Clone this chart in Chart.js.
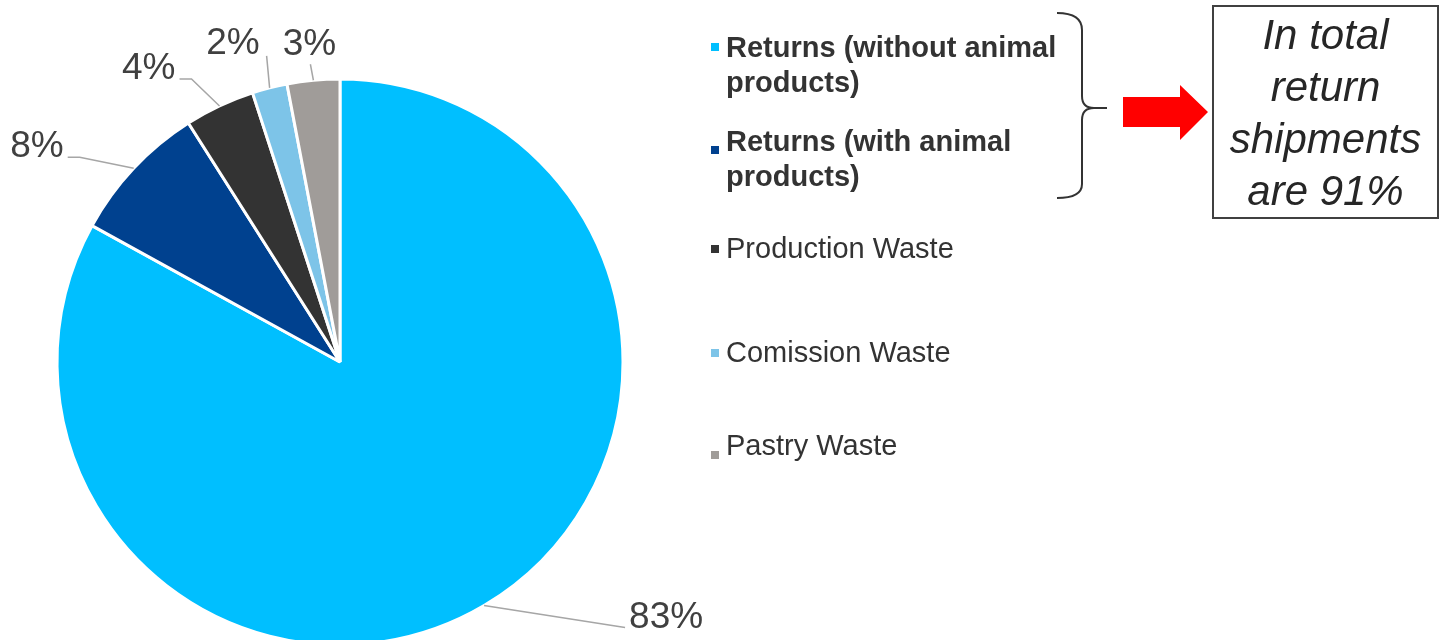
<!DOCTYPE html>
<html>
<head>
<meta charset="utf-8">
<script src="https://cdn.jsdelivr.net/npm/chart.js@4"></script>
<style>
  html, body { margin: 0; padding: 0; background: #fff; overflow: hidden; }
  body { width: 1442px; height: 640px; position: relative; font-family: "Liberation Sans", Arial, sans-serif; }
  #wasteChart { position: absolute; left: 0; top: 0; }
  .legend-item { position: absolute; left: 726px; width: 350px; font-size: 29px; line-height: 35px; color: #333; }
  .legend-item.bold { font-weight: bold; }
  .legend-mark { position: absolute; left: 711px; width: 8px; height: 8px; }
  #note {
    position: absolute; left: 1212px; top: 5px; width: 223px; height: 208px;
    border: 2px solid #404040; text-align: center; font-style: italic;
    font-size: 42px; line-height: 52px; color: #262626; padding-top: 2px; box-sizing: content-box;
  }
  #marks { position: absolute; left: 0; top: 0; }
</style>
</head>
<body>
<canvas id="wasteChart" width="1442" height="724"></canvas>
<svg id="marks" width="1442" height="640">
  <path d="M1057,13 Q1082,13 1082,30 L1082,96 Q1082,108 1094,108 L1107,108 M1094,108 Q1082,108 1082,120 L1082,184 Q1082,198 1057,198"
        fill="none" stroke="#333" stroke-width="2"/>
  <polygon points="1123,97 1180,97 1180,85 1208,112 1180,140 1180,127 1123,127" fill="#ff0000"/>
</svg>
<div id="note"></div>
<script>
// waste composition
const categories = [
  "Returns (without animal products)",
  "Returns (with animal products)",
  "Production Waste",
  "Comission Waste",
  "Pastry Waste"
];
const shares = [83, 8, 4, 2, 3];
const colors = ["#00bfff", "#00418f", "#333333", "#7dc4e8", "#a09c99"];
const boldEntries = [true, true, false, false, false];

// legend row tops and marker tops (px)
const legendTops = [30, 124, 231, 335, 428];
const markTops = [43, 146, 245, 349, 451];

// leader lines: points relative to the slice's outer midpoint, then label anchor
const leaders = [
  { pts: [[0, 0], [141, 22]], text: [145, 22], align: "left" },
  { pts: [[0, 0], [-54, -11], [-66, -11]], text: [-70, -11], align: "right" },
  { pts: [[0, 0], [-28, -27], [-40, -27]], text: [-44, -27], align: "right" },
  { pts: [[0, 0], [-3, -32]], text: [-10, -34], align: "right" },
  { pts: [[0, 0], [-3, -16]], text: [-4, -25], align: "center" }
];

const sliceLabels = {
  id: "sliceLabels",
  afterDatasetsDraw(chart) {
    const ctx = chart.ctx;
    const meta = chart.getDatasetMeta(0);
    ctx.save();
    meta.data.forEach((arc, i) => {
      const p = arc.getProps(["x", "y", "startAngle", "endAngle", "outerRadius"], true);
      const mid = (p.startAngle + p.endAngle) / 2;
      const ex = p.x + Math.cos(mid) * p.outerRadius;
      const ey = p.y + Math.sin(mid) * p.outerRadius;
      const l = leaders[i];
      ctx.beginPath();
      l.pts.forEach(([dx, dy], k) => {
        if (k === 0) ctx.moveTo(ex + dx, ey + dy);
        else ctx.lineTo(ex + dx, ey + dy);
      });
      ctx.strokeStyle = "#a6a6a6";
      ctx.lineWidth = 1.5;
      ctx.stroke();
      ctx.fillStyle = "#404040";
      ctx.font = '37px "Liberation Sans", Arial, sans-serif';
      ctx.textAlign = l.align;
      ctx.textBaseline = "alphabetic";
      ctx.fillText(chart.data.datasets[0].data[i] + "%", ex + l.text[0], ey + l.text[1]);
    });
    ctx.restore();
  }
};

new Chart(document.getElementById("wasteChart"), {
  type: "pie",
  data: {
    labels: categories,
    datasets: [{
      data: shares,
      backgroundColor: colors,
      borderColor: "#ffffff",
      borderWidth: 3
    }]
  },
  options: {
    responsive: false,
    animation: false,
    radius: 283,
    layout: { padding: { left: 58, right: 820, top: 80, bottom: 80 } },
    plugins: {
      legend: { display: false },
      tooltip: { enabled: false }
    }
  },
  plugins: [sliceLabels]
});

// legend
categories.forEach((name, i) => {
  const mark = document.createElement("div");
  mark.className = "legend-mark";
  mark.style.top = markTops[i] + "px";
  mark.style.background = colors[i];
  document.body.appendChild(mark);

  const item = document.createElement("div");
  item.className = "legend-item" + (boldEntries[i] ? " bold" : "");
  item.style.top = legendTops[i] + "px";
  item.textContent = name;
  document.body.appendChild(item);
});

// total of both return categories
document.getElementById("note").textContent =
  "In total return shipments are " + (shares[0] + shares[1]) + "%";
</script>
</body>
</html>
